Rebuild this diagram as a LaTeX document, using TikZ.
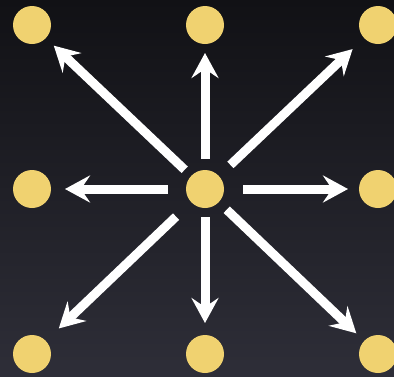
\documentclass[tikz,border=0pt]{standalone}
\usetikzlibrary{arrows.meta}
\definecolor{bgtop}{RGB}{17,17,21}
\definecolor{bgbot}{RGB}{46,46,56}
\definecolor{dotc}{RGB}{240,210,112}
\tikzset{
  dot/.style={circle, fill=dotc, draw=none, minimum size=38pt, inner sep=0pt, outer sep=0pt},
  ray/.style={draw=white, line width=9pt, -{Stealth[length=25pt, width=27pt, inset=9pt]}}
}
\begin{document}
\begin{tikzpicture}[x=1pt, y=-1pt]
  \shade[top color=bgtop, bottom color=bgbot] (0,0) rectangle (394,376);
  \useasboundingbox (0,0) rectangle (394,376);
  \node[dot] (tl) at (32,25) {};
  \node[dot] (tc) at (205,25) {};
  \node[dot] (tr) at (378,25) {};
  \node[dot] (ml) at (32,189) {};
  \node[dot] (c) at (205,189) {};
  \node[dot] (mr) at (378,189) {};
  \node[dot] (bl) at (32,354) {};
  \node[dot] (bc) at (205,354) {};
  \node[dot] (br) at (378,354) {};
  \draw[ray, shorten <=11pt, shorten >=9pt] (c) -- (tc);
  \draw[ray, shorten <=18pt, shorten >=14pt] (c) -- (ml);
  \draw[ray, shorten <=19pt, shorten >=11pt] (c) -- (mr);
  \draw[ray, shorten <=9pt, shorten >=12pt] (c) -- (bc);
  \draw[ray, shorten <=9pt, shorten >=11pt] (c) -- (tl);
  \draw[ray, shorten <=16pt, shorten >=16pt] (c) -- (tr);
  \draw[ray, shorten <=21pt, shorten >=18pt] (c) -- (bl);
  \draw[ray, shorten <=11pt, shorten >=11pt] (c) -- (br);
\end{tikzpicture}
\end{document}
